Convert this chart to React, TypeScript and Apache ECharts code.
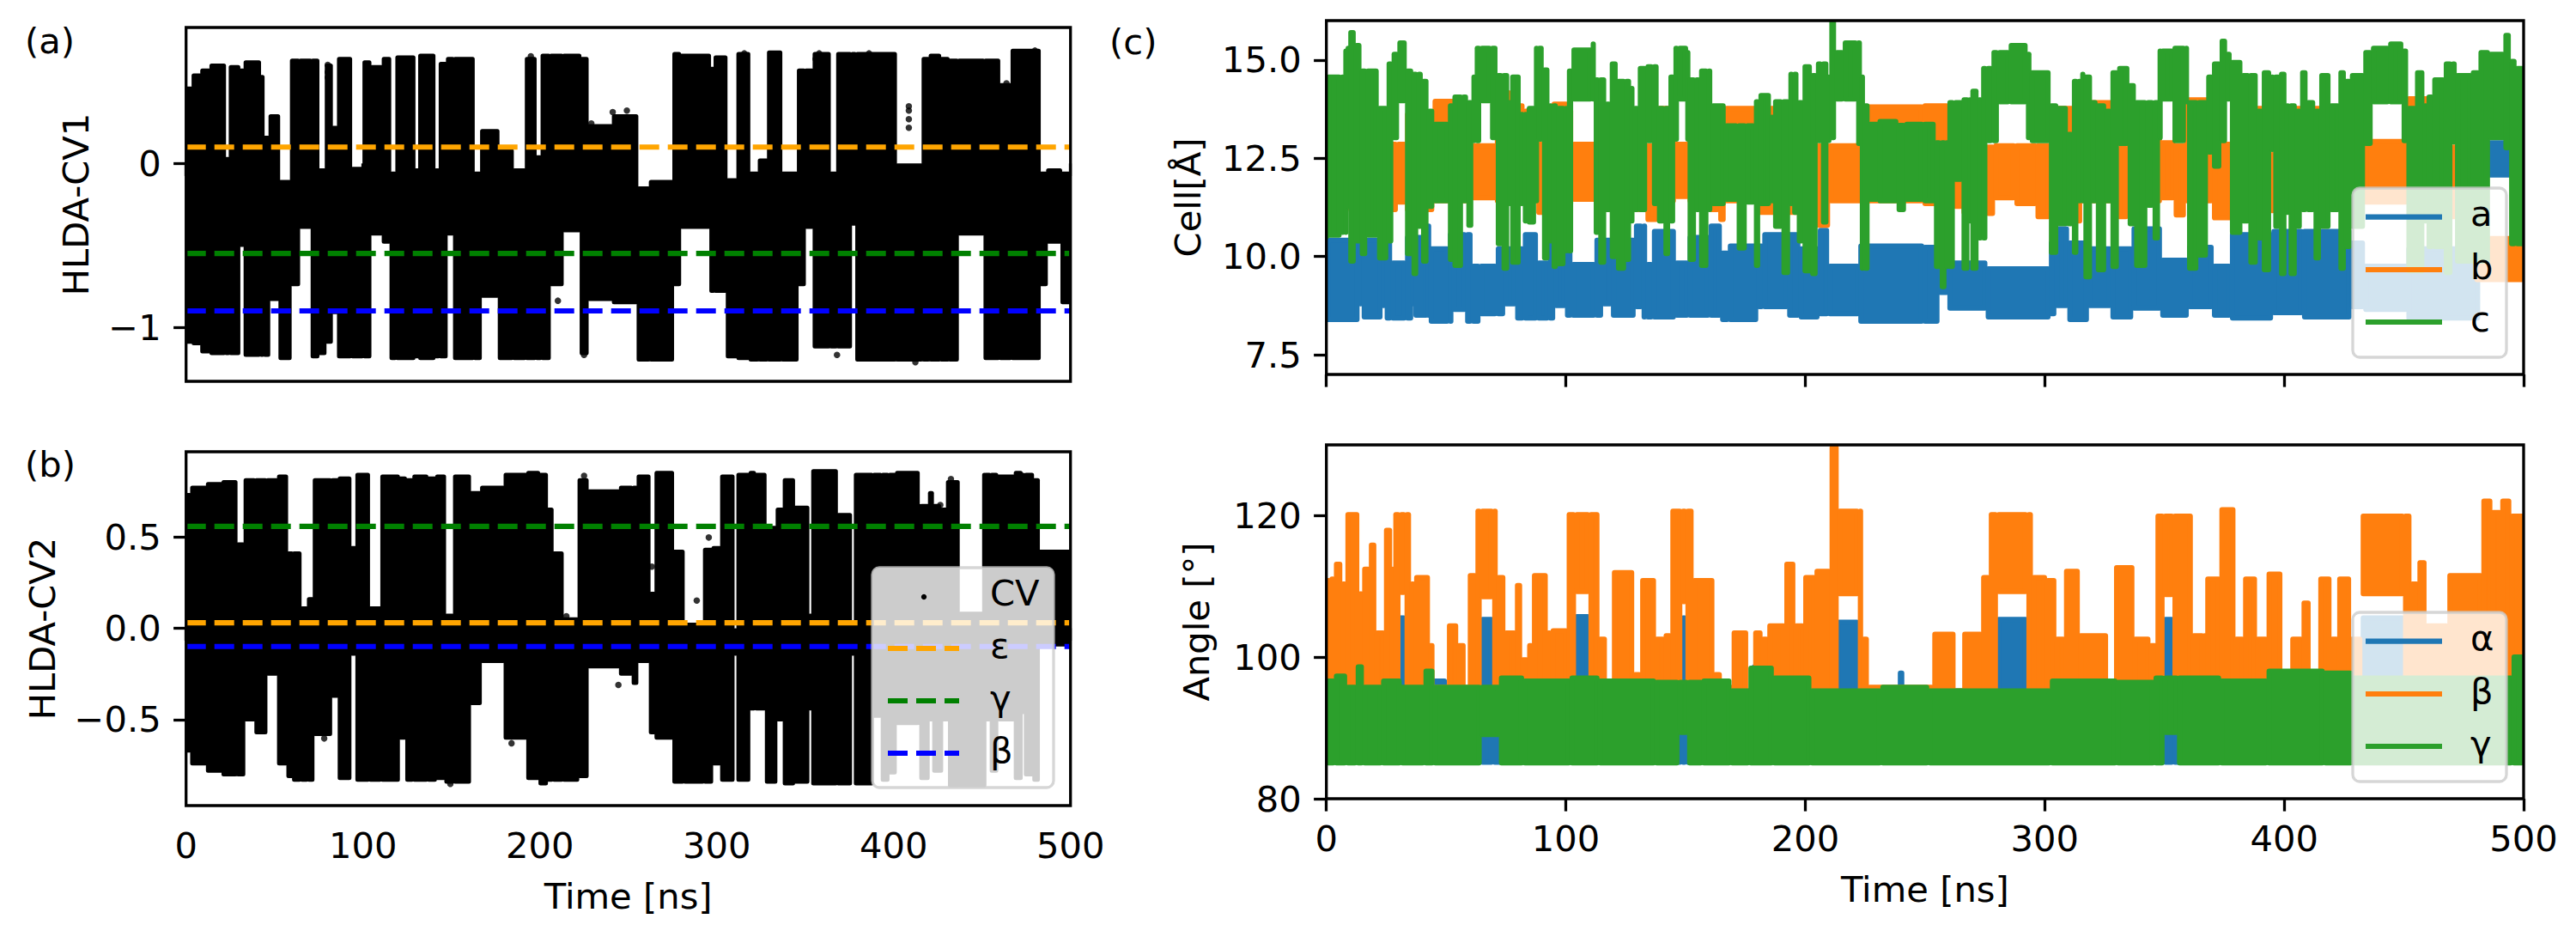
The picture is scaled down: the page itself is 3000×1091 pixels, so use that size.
import React, { useEffect, useRef } from "react";
import * as echarts from "echarts";

// Each row: [run start in ns, lowest value, highest value]; a run lasts until the next row's start.
const cv1Runs = [[0,-1.1,.47],[3.6,-1.11,.55],[8.5,-1.16,.58],[13.7,-1.17,.61],[22.1,-1.17,.04],[24.6,-1.17,.6],[30.2,-.51,.58],[33,-1.18,.63],[41.9,-1.18,.54],[43.9,-1.18,.17],[47.1,-.84,.3],[52.7,-1.2,-.1],[59.2,-.75,.64],[64,-.4,.64],[70.9,-1.19,.64],[74.9,-1.17,-.03],[78.9,-1.1,.61],[82.5,-.92,.23],[85.8,-1.19,.65],[93.4,-1.19,-.02],[100.2,-1.19,.63],[104.3,-.44,.6],[111.1,-.49,.65],[115.5,-1.2,-.05],[118.8,-1.2,.66],[129.2,-1.19,-.03],[131.7,-1.2,.67],[140.5,-1.19,-.03],[143.3,-1.19,.62],[147.4,-.44,.65],[151.4,-1.2,.65],[162.7,-1.2,-.05],[166.7,-.82,.21],[176.7,-1.2,.09],[184.8,-1.2,-.03],[192,-1.2,.65],[197.7,-1.2,.05],[200.9,-1.2,.67],[205.7,-.75,.67],[213,-.42,.67],[223,-1.17,.65],[227.1,-.84,.24],[241.2,-.86,.3],[255.2,-1.21,-.14],[262.1,-1.21,-.1],[275.4,-.75,.68],[279.4,-.4,.67],[296.3,-.79,.59],[298.7,-.79,.66],[305.6,-1.19,-.09],[311.6,-1.2,.68],[318.5,-1.21,-.05],[323.7,-1.21,.03],[328.9,-1.21,.69],[336.6,-1.21,-.05],[345.8,-.75,.58],[349.9,-.4,.58],[354.7,-1.13,.68],[364,-1.13,-.05],[368,-1.13,.68],[376,-.38,.68],[378.8,-1.21,.68],[401.4,-1.21,0],[416.3,-1.21,.65],[420.3,-1.21,.67],[426.4,-1.21,.65],[431.2,-1.21,.64],[436.4,-.44,.64],[451.3,-1.2,.64],[459.8,-1.2,.49],[466.6,-1.2,.7],[482.7,-.75,-.05],[486.7,-.49,-.03],[494.8,-.86,-.05]];
const cv1Outliers = [[194.9,.654],[194.9,.611],[80.1,.602],[80.1,.558],[80.1,.524],[408.6,.349],[408.6,.323],[408.6,.27],[408.6,.218],[463.8,.489],[463.8,.401],[463.8,.314],[225,-1.169],[210.2,-.838],[315.6,.672],[316.4,.602],[249.2,.323],[241.2,.314],[243.6,.279],[229.1,.244],[307.6,-1.169],[368,-1.169],[430.4,-1.187],[418.3,-1.169],[402.2,-1.187],[412.3,-1.213],[479.9,.689],[479.9,.646],[357.9,.672],[355.9,.637],[386.1,.672],[380.1,.646]];
const cv2Runs = [[0,-.68,.74],[2.8,-.75,.78],[11.7,-.79,.8],[20.5,-.81,.81],[28.6,-.81,.47],[33,-.51,.82],[39.1,-.58,.82],[45.5,-.26,.82],[51.9,-.75,.84],[57.2,-.82,.42],[60.4,-.84,.42],[64.8,-.84,.12],[68.8,-.84,.17],[72.1,-.59,.82],[82.1,-.38,.82],[86.2,-.83,.83],[93,-.15,.45],[96.2,-.84,.85],[103.5,-.84,.12],[110.3,-.84,.84],[120.4,-.61,.83],[124.4,-.84,.82],[128.4,-.84,.84],[136.5,-.84,.83],[141.3,-.83,.84],[146.5,-.85,.08],[151.4,-.85,.84],[160.6,-.42,.75],[166.7,-.19,.78],[180,-.61,.85],[192.8,-.83,.86],[199.7,-.86,.85],[204.1,-.84,.66],[207.3,-.84,.42],[213,-.84,.06],[221.8,-.82,.82],[227.1,-.22,.76],[245.2,-.26,.78],[252.4,-.31,.78],[255.2,-.19,.84],[262.1,-.58,.2],[265.3,-.61,.86],[275.4,-.85,.43],[281.4,-.85,.03],[292.7,-.85,.44],[297.5,-.75,.45],[302.4,-.84,.84],[309.6,-.15,0],[311.6,-.84,.85],[318.5,-.45,.86],[321.7,-.45,.85],[327.7,-.85,.56],[333.8,-.51,.66],[337.8,-.86,.82],[343.8,-.85,.67],[351.9,-.45,.08],[353.9,-.86,.87],[368,-.86,.63],[376,-.15,.03],[378,-.86,.85],[388.3,-.49,.85],[393.2,-.84,.85],[397.2,-.8,.85],[401.3,-.53,.86],[414.3,-.53,.68],[415,-.83,.68],[419.9,-.51,.75],[422.3,-.79,.68],[426.4,-.79,.66],[427.2,-.51,.66],[430.4,-.51,.81],[431.2,-.87,.81],[436.9,-.87,.09],[451,-.87,.85],[451.5,-.51,.85],[454.8,-.79,.85],[458.7,-.51,.84],[468.4,-.83,.86],[472.5,-.47,.85],[474.1,-.81,.85],[478.9,-.84,.82],[482.2,-.1,.43]];
const cv2Outliers = [[184,-.629],[244.4,-.31],[288.7,.151],[263.3,.337],[263.3,.177],[225,.833],[432.4,.816],[432.4,.762],[295.5,.496],[357.1,.47],[78.1,-.603],[215,.066],[149.4,-.851],[426.4,.674],[454.5,.7],[454.5,.647]];

const cellARuns = [[0,8.33,10.48],[13.5,8.73,10.48],[15.1,8.4,10.48],[23.1,8.69,10.48],[24.7,8.37,10.48],[27.1,8.37,9.9],[33.2,8.37,10.55],[35.9,8.73,10.55],[36.7,8.44,10.55],[42.3,8.44,10.84],[43.1,8.29,10.26],[51.1,8.29,10.62],[52.7,8.59,10.62],[58.3,8.29,10.62],[60.7,8.29,9.82],[64,8.48,9.82],[71.1,8.48,10.26],[74.3,8.73,10.26],[79.2,8.37,10.26],[82.4,8.37,10.62],[88,8.37,9.9],[92.8,8.37,10.41],[95.2,8.69,10.41],[100,8.44,10.41],[102.4,8.44,9.86],[112.3,8.44,10.48],[115.2,8.73,10.48],[119.2,8.44,10.48],[128.8,8.66,10.84],[132,8.4,10.84],[133.6,8.4,9.86],[136.3,8.4,10.7],[145.6,8.44,9.9],[151.2,8.44,10.55],[160,8.44,10.84],[164.8,8.33,10.15],[168,8.33,10.33],[180,8.66,10.33],[182.4,8.66,10.62],[192.8,8.44,10.62],[197.6,8.4,10.26],[205.6,8.48,10.73],[209.6,8.48,9.82],[222.5,8.29,10.33],[249.3,8.29,10.3],[255.7,9.02,10.3],[259.7,8.62,9.9],[275.7,8.4,9.75],[302.1,8.48,10.41],[304.5,8.69,10.77],[309.8,8.33,10.41],[318.1,8.69,10.26],[327.8,8.4,10.26],[336.6,8.62,10.77],[348.6,8.44,9.97],[359.8,8.66,10.3],[370.2,8.44,9.82],[377.7,8.37,10.62],[395,8.51,10.7],[407.8,8.4,10.7],[427.8,8.66,10.41],[433.4,8.59,9.82],[451.4,8.37,10.26],[481.5,12.01,12.96]];
const cellBRuns = [[0,11.28,13.9],[7.9,11.21,12.88],[9.5,11.13,13.76],[27.1,11.13,12.92],[29.5,11.32,12.92],[33.2,11.13,13.68],[44.7,11.35,14.01],[53.5,11.35,13.9],[60.7,11.43,12.88],[70.7,11.35,13.76],[74.3,11.35,14.23],[76.8,11.35,13.9],[82.4,11.35,13.76],[88,11.06,12.92],[90.7,11.35,13.76],[94.4,11.35,13.94],[100.8,11.28,13.76],[102.7,11.39,12.92],[112.3,11.13,13.76],[133.6,10.88,12.88],[138.4,11.35,13.83],[145.6,11.46,12.92],[151.2,11.35,13.83],[160,11.13,13.83],[164,10.88,13.83],[166.4,11.35,13.83],[180,11.06,13.83],[204.8,10.73,12.88],[210,11.35,12.88],[225.6,11.35,13.87],[249.3,11.28,13.9],[259.7,11.28,12.88],[262.1,11.21,12.88],[265.6,11.06,12.88],[275.7,11.03,12.85],[278.9,11.43,12.88],[287.7,11.28,12.88],[296.5,10.95,12.88],[302.1,11.35,13.83],[313.3,10.84,12.88],[315.3,11.35,13.98],[330.6,10.95,12.81],[334.6,11.35,13.83],[348.6,11.43,12.96],[354.2,10.99,12.88],[358.6,11.35,14.05],[370.2,10.92,12.92],[377.7,11.35,13.83],[394.2,11.1,12.66],[395.8,11.28,13.83],[433.4,11.32,12.99],[451.4,11.35,14.08],[469.9,10.95,12.85],[471.9,11.35,13.9],[479.8,9.35,10.52]];
const cellCRuns = [[0,10.44,14.34],[.2,10.48,14.63],[6,10.55,14.63],[7.6,10.55,15.29],[8.7,11.21,15.36],[9.5,9.82,15.76],[11.9,10.33,15.43],[14.3,10.01,14.78],[16.7,10.48,14.78],[21.5,9.9,13.83],[25.5,10.33,14.96],[27.6,12.96,15.21],[30,13.9,15.5],[33.2,10.01,14.78],[35.9,9.5,14.7],[38,10.7,14.7],[39.9,9.82,14.52],[42.3,11.21,13.76],[44.7,11.35,13.43],[51.1,9.86,13.9],[53,9.71,14.12],[56.7,11.35,14.12],[58.8,10.73,13.98],[61,12.88,14.63],[62.3,12.88,15.36],[64.3,13.9,15.36],[68.7,12.96,15.36],[71.1,10.26,14.67],[73.5,9.64,14.67],[76,11.28,13.98],[77.1,9.79,14.63],[80.8,11.28,13.68],[82.4,10.84,13.68],[84,10.81,13.83],[87.2,11.35,15.36],[88.3,12.92,15.36],[90.4,9.9,14.81],[92.8,10.33,13.9],[94.4,9.68,13.9],[96.3,9.75,13.83],[99.5,10.08,13.83],[100.8,10.08,14.78],[102.7,13.94,15.32],[110.9,13.94,15.47],[112,10.55,14.56],[113.9,9.79,14.56],[116.5,11.13,13.94],[118.7,9.93,14.96],[121.3,9.64,14.52],[124.8,9.86,14.52],[126.9,10.84,14.34],[128.3,11.13,13.83],[130.4,11.13,14.85],[133.6,12.88,14.89],[136.3,11.28,14.89],[138.4,10.84,13.83],[141.1,10.01,13.83],[143.2,10.84,14.63],[145.3,12.92,15.36],[146.9,13.94,15.36],[150.7,12.92,15.25],[151.2,9.86,14.56],[154,11.13,14.56],[156,9.71,14.78],[159.2,11.13,14.78],[160.8,11.28,13.9],[166.4,11.39,13.39],[171.7,10.15,13.39],[175.2,11.32,13.39],[178.9,9.71,14],[180.8,11.28,14.16],[185.3,11.35,13.61],[186.9,10.7,14],[190.4,9.53,14],[193.3,11.28,14.7],[194.9,11.06,14.7],[196.8,10.33,13.98],[199.2,9.57,14.89],[202.4,9.5,14.67],[204.8,12.88,14.96],[206.9,10.81,14.96],[209.3,12.88,14.63],[210.4,12.96,16.1],[212.5,13.94,15.25],[216,13.94,15.5],[221.6,12.81,15.5],[223.3,9.64,14.63],[224.4,9.64,13.9],[226.5,11.39,13.43],[230.5,11.35,13.5],[238.5,11.13,13.4],[241.7,11.39,13.43],[249.3,11.35,13.43],[254.1,9.68,12.96],[256.5,9.17,12.96],[258.6,9.68,12.96],[259.7,9.68,13.98],[262.1,11.9,13.98],[265.6,9.64,14.05],[268.2,10.84,14.05],[269.3,9.64,14.27],[272,10.41,14.05],[273.8,10.41,14.85],[275.7,12.88,14.85],[278.1,12.88,15.25],[280.5,13.87,15.25],[285.3,13.87,15.43],[292.5,12.96,15.21],[294.1,12.88,14.74],[302.1,10.04,13.9],[305.3,10.77,13.83],[309.3,10.77,13.17],[311.7,10.04,14.52],[313.7,11.35,14.52],[315.3,11.35,14.7],[316.5,9.42,14.63],[319.4,11.35,13.98],[321.7,9.6,13.9],[325.3,11.35,13.76],[327.8,9.68,14.74],[330.6,12.81,14.85],[335,10.77,14.41],[337.7,9.71,13.98],[342.5,11.24,13.98],[345.4,10.41,13.98],[347.8,12.96,15.29],[348.6,13.94,15.29],[353.7,12.88,15.36],[358.6,13.87,15.36],[359.8,9.64,13.98],[363.8,9.97,13.98],[367.8,12.59,14.63],[370.2,12.23,14.96],[373.4,12.88,15.54],[375.8,13.94,15.21],[377.7,10.55,15],[382.2,10.84,14.67],[385.4,9.79,14.67],[388.6,10.41,13.76],[391,9.6,14.74],[394.2,12.66,14.63],[395.8,10.7,14.63],[398.2,9.5,14.7],[400.6,11.06,13.9],[402.2,9.5,13.9],[404.9,10.7,13.76],[407,11.13,14.74],[409.4,11.13,13.98],[412.6,9.9,13.76],[415,10.7,14.67],[419,11.13,13.9],[423,9.64,14.74],[425.4,10.19,14.52],[427.8,10.7,14.67],[433.4,12.81,15.25],[436.6,13.87,15.36],[443.8,13.87,15.47],[449.4,12.88,15.29],[451.4,9.57,13.83],[455,9.57,14.74],[458.2,10.84,13.9],[459.8,10.19,14.12],[462.2,10.19,14.56],[467,9.53,14.96],[469.9,12.85,14.96],[471.7,9.82,14.67],[478.3,9.82,14.74],[481.5,9.82,15.25],[485.6,12.96,15.21],[491.9,12.7,15.69],[494.3,10.26,15.03],[496.7,10.26,14.85]];

const alphaRuns = [[0,84.8,95.6],[30.3,84.8,105.9],[33,84.8,95.6],[44,84.8,97],[50,84.8,95.6],[64.5,84.8,105.7],[69.6,84.8,95.6],[103.9,84.8,106.1],[109.8,84.8,95.6],[148.3,84.8,105.9],[150.3,84.8,95.6],[178,84.8,99],[180,84.8,95.6],[212.8,84.8,105.3],[222.3,84.8,95.6],[239,84.8,98.1],[241,84.8,95.6],[280.1,84.8,105.7],[292.7,84.8,96.8],[296,84.8,95.6],[320,84.8,98.8],[322,84.8,95.6],[349.7,84.8,105.7],[353.7,84.8,95.6],[375.3,84.8,105.7],[376.5,84.8,95.6],[420.6,84.8,99.7],[423,84.8,95.6],[432.3,84.8,105.9],[450,84.8,95.6],[486.6,84.8,109.1],[491.4,84.8,105],[494.3,84.8,96]];
const betaRuns = [[0,94.7,111.2],[1.6,94.7,111.4],[3.5,94.7,113.5],[6.3,94.7,110.7],[8.3,94.7,120.5],[13.4,94.7,109.3],[15.3,94.7,112.8],[18.1,94.7,116.2],[20.5,94.7,103.8],[24.4,94.7,118.3],[27.1,94.7,112.8],[28.3,94.7,120.5],[30.6,108.8,120.5],[33,94.7,120.5],[35,94.7,110.7],[37,94.7,111.6],[42.9,94.7,102],[44.8,94.7,96.1],[50.7,94.7,104.8],[54.7,94.7,102],[57.8,94.7,96.1],[59.4,94.7,111.9],[62.6,94.7,121],[64.5,108.2,121],[69.6,94.7,121],[71.2,94.7,111.6],[74.4,94.7,103.8],[79.1,94.7,110.5],[81.4,94.7,100],[84.2,94.7,102],[86.2,94.7,111.9],[92.1,94.7,103.8],[94,94.7,104.1],[100.7,94.7,120.5],[103.9,108.9,120.5],[109.8,94.7,120.5],[113.7,94.7,102.9],[116.8,94.7,96.1],[119.6,94.7,112.3],[128.2,94.7,97.9],[131.4,94.7,111.2],[137.3,94.7,102.9],[141.2,94.7,103.4],[144,94.7,121],[148.3,107.5,121],[150.3,94.7,121],[153,94.7,111.2],[161.7,94.7,97.9],[164.8,94.7,96.1],[169.6,94.7,103.8],[175.8,94.7,95.6],[178.6,94.7,103.8],[181.8,94.7,102.9],[184.5,94.7,104.8],[191.6,94.7,113.5],[195.5,94.7,104.8],[199.5,94.7,111.6],[204.2,94.7,112.5],[210.5,94.7,130],[213.6,108.6,121],[222.3,94.7,121],[223.8,94.7,102.9],[226.2,90,96.1],[253.4,94.7,103.6],[262.4,94.7,95.6],[265.9,94.7,103.6],[273.8,94.7,111.6],[277,94.7,120.5],[280.1,108.9,120.5],[292.7,94.7,120.5],[294.7,94.7,111.6],[300.6,94.7,111.2],[304.5,94.7,102.9],[308.4,94.7,112.5],[314.3,94.7,103.4],[326.1,94.7,95.6],[329.3,94.7,113],[337.1,94.7,102.9],[343.8,94.7,102],[346.6,94.7,120.3],[349.7,108.5,120.3],[353.7,94.7,120.3],[361.5,94.7,103.4],[366.3,94.7,103.4],[367.4,94.7,111.4],[373.3,94.7,121.2],[379.3,94.7,102.9],[383.2,94.7,111.4],[388.3,94.7,102.9],[393,94.7,112.1],[398.9,94.7,96.1],[402.9,94.7,102.9],[407.6,94.7,108],[410.7,94.7,96.1],[414.6,94.7,111.4],[419.4,94.7,102.9],[422.5,94.7,111.4],[427.6,94.7,102.9],[432.3,108.6,120.3],[450,94.7,120.3],[452.8,94.7,110.7],[456,94.7,113.7],[459.1,94.7,104.8],[468.5,94.7,111.9],[482.7,94.7,122.4],[486.6,94.7,120.8],[490.6,94.7,122.4],[494.5,94.7,120.3]];
const gammaRuns = [[0,84.7,97],[3.5,84.7,97.7],[8.3,84.7,96.1],[12.6,84.7,99],[15.3,84.7,96.1],[23.2,84.7,97],[31.1,84.7,96.1],[40.9,84.7,98.4],[44.8,84.7,96.1],[64.5,88.7,96.1],[72.4,84.7,97.4],[82.2,84.7,97],[101.9,84.7,97.4],[113.7,84.7,97],[137.3,84.7,96.8],[147.1,89,96.8],[151,84.7,96.8],[157,84.7,97],[168.8,84.7,95.6],[176.6,84.7,98.8],[186.5,84.7,97.4],[202.2,84.7,95.6],[231.7,84.7,96.1],[251.4,84.7,95.6],[302.5,84.7,97],[330,84.7,96.8],[345.8,84.7,97.4],[349.7,89,97.4],[355.6,84.7,97.4],[373.3,84.7,97],[393,84.7,98.4],[416.6,84.7,98.1],[428.4,84.7,97.4],[495.3,84.7,100.4]];

const cv1Levels = { epsilon: 0.10, gamma: -0.55, beta: -0.90 };
const cv2Levels = { epsilon: 0.03, gamma: 0.557, beta: -0.10 };
const xTicks = [0, 100, 200, 300, 400, 500];
const cv1Ticks = [-1, 0];
const cv2Ticks = [-0.5, 0, 0.5];
const cellTicks = [7.5, 10, 12.5, 15];
const angleTicks = [80, 100, 120];

const FONT = "DejaVu Sans";
const FS = 41.67;
const BLUE = "#1f77b4", ORANGE = "#ff7f0e", GREEN = "#2ca02c";
const panels = [
  { left: 216.7, right: 1246.7, top: 32, bottom: 444 },
  { left: 216.7, right: 1246.7, top: 526, bottom: 938 },
  { left: 1544.7, right: 2939, top: 24, bottom: 436 },
  { left: 1544.7, right: 2939, top: 518, bottom: 930 },
];

const toSpans = (rows: number[][]) =>
  rows.map((r, i) => [r[0], i + 1 < rows.length ? rows[i + 1][0] : 500, r[1], r[2]]);

function runSeries(name: string, rows: number[][], idx: number, color: string, stroke: number) {
  return {
    type: "custom", name, xAxisIndex: idx, yAxisIndex: idx, clip: true, silent: true, z: 2,
    encode: { x: [0, 1], y: [2, 3] },
    data: toSpans(rows),
    renderItem: (_p: any, api: any) => {
      const a = api.coord([api.value(0), api.value(3)]);
      const b = api.coord([api.value(1), api.value(2)]);
      // the rounded stroke overlaps the neighbouring run a little so that no seam shows
      const w = Math.max(0, b[0] - a[0] - stroke + 2);
      const h = Math.max(0, b[1] - a[1] - stroke);
      const cx = (a[0] + b[0]) / 2;
      return {
        type: "rect",
        shape: { x: cx - w / 2, y: a[1] + stroke / 2, width: w, height: h },
        style: { fill: color, stroke: color, lineWidth: stroke, lineJoin: "round" },
      };
    },
  };
}

function dotSeries(name: string, rows: number[][], idx: number) {
  return {
    type: "scatter", name, xAxisIndex: idx, yAxisIndex: idx, silent: true, z: 2,
    symbol: "circle", symbolSize: 7.5, data: rows, itemStyle: { color: "#000" },
  };
}

function levelSeries(name: string, value: number, idx: number, color: string) {
  return {
    type: "line", name, xAxisIndex: idx, yAxisIndex: idx, symbol: "none", silent: true, z: 3,
    data: [[0, value], [500, value]],
    lineStyle: { color, width: 6.2, type: [23, 10], cap: "butt" },
  };
}

function legendBox(x: number, y: number, w: number, h: number) {
  return { type: "rect", z: 60, shape: { x, y, width: w, height: h, r: 8 }, style: { fill: "rgba(255,255,255,0.8)", stroke: "rgba(204,204,204,0.8)", lineWidth: 3.3 } };
}
function legendLine(x1: number, x2: number, y: number, color: string, dash?: number[]) {
  return { type: "line", z: 65, shape: { x1, y1: y, x2, y2: y }, style: { stroke: color, lineWidth: 6.2, lineDash: dash } };
}
function legendText(text: string, x: number, lineY: number) {
  return { type: "text", z: 70, x, y: lineY - 4, style: { text, fill: "#000", font: `${FS}px "${FONT}"`, verticalAlign: "middle" } };
}

function xAxisFor(idx: number, labels: boolean, name?: string) {
  return {
    type: "value", gridIndex: idx, min: 0, max: 500, interval: 100,
    splitLine: { show: false }, axisLine: { show: false },
    axisTick: { show: true, length: 14.6, lineStyle: { width: 3.3, color: "#000" }, customValues: xTicks },
    axisLabel: { show: labels, fontFamily: FONT, fontSize: FS, color: "#000", margin: 25, customValues: xTicks },
    name, nameLocation: "middle", nameGap: 84,
    nameTextStyle: { fontFamily: FONT, fontSize: FS, color: "#000" },
  };
}
function yAxisFor(idx: number, min: number, max: number, ticks: number[], fmt: (v: number) => string, name: string, gap: number) {
  return {
    type: "value", gridIndex: idx, min, max,
    splitLine: { show: false }, axisLine: { show: false },
    axisTick: { show: true, length: 14.6, lineStyle: { width: 3.3, color: "#000" }, customValues: ticks },
    axisLabel: { fontFamily: FONT, fontSize: FS, color: "#000", margin: 29, customValues: ticks, formatter: fmt },
    name, nameLocation: "middle", nameRotate: 90, nameGap: gap,
    nameTextStyle: { fontFamily: FONT, fontSize: FS, color: "#000" },
  };
}
const minus = (s: string) => s.replace("-", "\u2212");

export default function App() {
  const ref = useRef<HTMLDivElement>(null);
  useEffect(() => {
    document.body.style.margin = "0";
    const chart = echarts.init(ref.current!, null, { renderer: "svg", width: 3000, height: 1091 });
    chart.setOption({
      animation: false,
      backgroundColor: "#fff",
      grid: panels.map((p) => ({ left: p.left, top: p.top, width: p.right - p.left, height: p.bottom - p.top, containLabel: false })),
      xAxis: [xAxisFor(0, false), xAxisFor(1, true, "Time [ns]"), xAxisFor(2, false), xAxisFor(3, true, "Time [ns]")],
      yAxis: [
        yAxisFor(0, -1.33, 0.83, cv1Ticks, (v) => minus(String(v)), "HLDA-CV1", 107),
        yAxisFor(1, -0.97, 0.965, cv2Ticks, (v) => minus(v.toFixed(1)), "HLDA-CV2", 146),
        yAxisFor(2, 7, 16, cellTicks, (v) => v.toFixed(1), "Cell[Å]", 140),
        yAxisFor(3, 80, 130, angleTicks, (v) => String(v), "Angle [°]", 130),
      ],
      series: [
        runSeries("CV1", cv1Runs, 0, "#000", 5),
        dotSeries("CV1 outliers", cv1Outliers, 0),
        levelSeries("ε", cv1Levels.epsilon, 0, "#FFA500"),
        levelSeries("γ", cv1Levels.gamma, 0, "#008000"),
        levelSeries("β", cv1Levels.beta, 0, "#0000FF"),
        runSeries("CV", cv2Runs, 1, "#000", 5),
        dotSeries("CV2 outliers", cv2Outliers, 1),
        levelSeries("ε", cv2Levels.epsilon, 1, "#FFA500"),
        levelSeries("γ", cv2Levels.gamma, 1, "#008000"),
        levelSeries("β", cv2Levels.beta, 1, "#0000FF"),
        runSeries("a", cellARuns, 2, BLUE, 6),
        runSeries("b", cellBRuns, 2, ORANGE, 6),
        runSeries("c", cellCRuns, 2, GREEN, 6),
        runSeries("α", alphaRuns, 3, BLUE, 6),
        runSeries("β", betaRuns, 3, ORANGE, 6),
        runSeries("γ", gammaRuns, 3, GREEN, 6),
      ],
      graphic: [
        ...panels.map((p) => ({ type: "rect", z: 50, shape: { x: p.left, y: p.top, width: p.right - p.left, height: p.bottom - p.top }, style: { fill: "none", stroke: "#000", lineWidth: 3.3 } })),
        { type: "text", z: 70, x: 29, y: 47, style: { text: "(a)", fill: "#000", font: `${FS}px "${FONT}"`, verticalAlign: "middle" } },
        { type: "text", z: 70, x: 29, y: 540, style: { text: "(b)", fill: "#000", font: `${FS}px "${FONT}"`, verticalAlign: "middle" } },
        { type: "text", z: 70, x: 1292, y: 48, style: { text: "(c)", fill: "#000", font: `${FS}px "${FONT}"`, verticalAlign: "middle" } },
        legendBox(1016, 661, 211, 256),
        { type: "circle", z: 65, shape: { cx: 1076, cy: 695, r: 3.2 }, style: { fill: "#000" } },
        legendText("CV", 1153, 694),
        legendLine(1034, 1117, 755, "#FFA500", [23, 10]), legendText("ε", 1153, 755),
        legendLine(1034, 1117, 816, "#008000", [23, 10]), legendText("γ", 1153, 816),
        legendLine(1034, 1117, 877, "#0000FF", [23, 10]), legendText("β", 1153, 877),
        legendBox(2740, 219, 179, 197),
        legendLine(2755, 2844, 252.7, BLUE), legendText("a", 2877, 252.7),
        legendLine(2755, 2844, 314, ORANGE), legendText("b", 2877, 314),
        legendLine(2755, 2844, 375, GREEN), legendText("c", 2877, 375),
        legendBox(2740, 713, 179, 197),
        legendLine(2755, 2844, 746.7, BLUE), legendText("α", 2877, 746.7),
        legendLine(2755, 2844, 808, ORANGE), legendText("β", 2877, 808),
        legendLine(2755, 2844, 869, GREEN), legendText("γ", 2877, 869),
      ],
    });
    return () => chart.dispose();
  }, []);
  return <div ref={ref} style={{ position: "absolute", left: 0, top: 0, width: 3000, height: 1091 }} />;
}
